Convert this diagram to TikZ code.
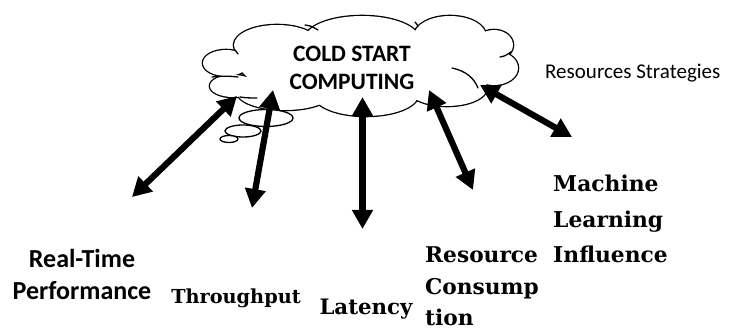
\documentclass[tikz,border=0pt]{standalone}
\usepackage{fontspec}
\setmainfont{Carlito}
\newfontfamily\serifbold{DejaVu Serif}
\usetikzlibrary{arrows.meta}

\tikzset{
  lobe/.style={line width=2.6pt},
  inner/.style={line width=1.3pt, line cap=round},
  bubble/.style={draw, fill=white, line width=1.3pt},
  bigarrow/.style={line width=6.2pt,
    {Triangle[length=19pt,width=20pt]}-{Triangle[length=19pt,width=20pt]}},
  sanslabel/.style={font=\bfseries, align=center, inner sep=0pt},
  seriflabel/.style={font=\serifbold\bfseries, align=left, inner sep=0pt},
}

\begin{document}
\begin{tikzpicture}[x=1pt, y=-1pt]
\useasboundingbox (0,0) rectangle (740,336);

% cloud lobes: thick outlines first, then white fills so only the outer edge remains
\def\cloudlobes{%
  (226,63) ellipse [x radius=23, y radius=13]
  (233,86) ellipse [x radius=23, y radius=11]
  (277,45) ellipse [x radius=43, y radius=20]
  (362,39) ellipse [x radius=57, y radius=23]
  (450,36) ellipse [x radius=36, y radius=20]
  (494,45) ellipse [x radius=19, y radius=15]
  (494,68) ellipse [x radius=24, y radius=17]
  (447,88) ellipse [x radius=40, y radius=18]
  (366,95) ellipse [x radius=52, y radius=21]
  (285,92) ellipse [x radius=48, y radius=18]
  (465,60) ellipse [x radius=25, y radius=20]
  (360,65) ellipse [x radius=120, y radius=35]}
\draw[lobe] \cloudlobes;
\fill[white] \cloudlobes;

% small inner strokes of the cloud
\draw[inner] (212,77) .. controls (222,76) and (230,76) .. (238,77);
\draw[inner] (240,97) .. controls (246,98) and (251,98) .. (257,98);
\draw[inner] (235,50) .. controls (236,52) .. (238,54);
\draw[inner] (305,25) .. controls (311,26) .. (318,30);
\draw[inner] (415,22) .. controls (416,24) .. (418,26);
\draw[inner] (452,68) .. controls (466,71) and (474,78) .. (478,88);
\draw[inner] (500,57) .. controls (505,56) .. (511,52);

% thought bubbles
\draw[bubble] (266,118) ellipse [x radius=27, y radius=8.5];
\draw[bubble] (243,131) ellipse [x radius=18, y radius=6];
\draw[bubble] (229,139) ellipse [x radius=9, y radius=3.5];

% title inside the cloud (base anchor = baseline of the last line)
\node[sanslabel, anchor=base, font=\fontsize{23.5}{28.5}\selectfont\bfseries] (title)
  at (352,90) {COLD START\\COMPUTING};

\node[inner sep=0pt, anchor=base west, font=\fontsize{21}{24}\selectfont] (strat)
  at (545,79) {Resources Strategies};

% labels
\node[sanslabel, anchor=base, font=\fontsize{26}{32}\selectfont\bfseries] (rt)
  at (82,300) {Real-Time\\Performance};
\node[seriflabel, anchor=base, font=\fontsize{19.3}{22}\selectfont\serifbold\bfseries] (tp)
  at (236,304) {Throughput};
\node[seriflabel, anchor=base, font=\fontsize{21.3}{24}\selectfont\serifbold\bfseries] (lat)
  at (366,315) {Latency};
\node[seriflabel, anchor=base west, font=\fontsize{21.7}{31.5}\selectfont\serifbold\bfseries] (rc)
  at (425,326) {Resource\\Consump\\tion};
\node[seriflabel, anchor=base west, font=\fontsize{21.8}{35.5}\selectfont\serifbold\bfseries] (ml)
  at (553,263) {Machine\\Learning\\Influence};

% arrow end points
\coordinate (rtTop) at (237,96);
\coordinate (rtEnd) at (132,197);
\coordinate (tpTop) at (273,90);
\coordinate (tpEnd) at (252,208);
\coordinate (latTop) at (362.5,97);
\coordinate (latEnd) at (362.5,229);
\coordinate (rcTop) at (429,90);
\coordinate (rcEnd) at (473,190);
\coordinate (mlTop) at (480,85);
\coordinate (mlEnd) at (572,137);

\draw[bigarrow] (rtTop) -- (rtEnd);
\draw[bigarrow] (tpTop) -- (tpEnd);
\draw[bigarrow] (latTop) -- (latEnd);
\draw[bigarrow] (rcTop) -- (rcEnd);
\draw[bigarrow] (mlTop) -- (mlEnd);
\end{tikzpicture}
\end{document}
